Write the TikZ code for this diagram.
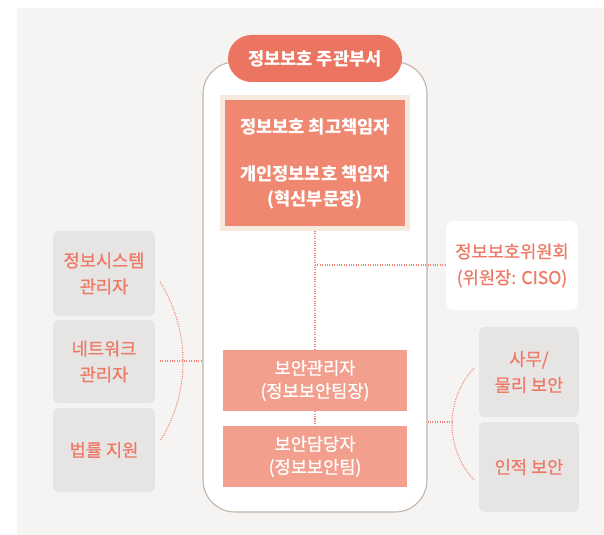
\documentclass[tikz,border=0pt]{standalone}
\usepackage{fontspec}
\newfontfamily\kr{Noto Sans CJK KR}
\newfontfamily\krm[FakeBold=0.8]{Noto Sans CJK KR}
\definecolor{bggray}{HTML}{F5F4F2}
\definecolor{boxline}{HTML}{BEB4A9}
\definecolor{pillred}{HTML}{EC7561}
\definecolor{topred}{HTML}{EF8771}
\definecolor{cream}{HTML}{F6E9DD}
\definecolor{midred}{HTML}{F29F8E}
\definecolor{graybox}{HTML}{E6E5E4}
\definecolor{salmon}{HTML}{EE7A65}
\definecolor{dotline}{HTML}{EE8472}
\tikzset{
  whitetxt/.style={text=white, font=\krm\fontsize{13.2pt}{17.25pt}\selectfont, align=center, inner sep=0pt},
  salmontxt/.style={text=salmon, font=\krm\fontsize{13.2pt}{19.5pt}\selectfont, align=center, inner sep=0pt},
  boldtxt/.style={text=white, font=\kr\bfseries\fontsize{13.2pt}{18.75pt}\selectfont, align=center, inner sep=0pt},
  midbox/.style={whitetxt, fill=midred, minimum width=138pt, minimum height=45.75pt},
  sidebox/.style={salmontxt, fill=graybox, rounded corners=4.5pt},
  conn/.style={draw=dotline, line width=0.8pt, dash pattern=on 0.8pt off 1pt}
}
\begin{document}
\begin{tikzpicture}[x=0.75pt,y=-0.75pt]
\useasboundingbox (0,0) rectangle (604,535);
\fill[bggray] (17,8) rectangle (604,535);
% main box
\node[draw=boxline, line width=0.8pt, fill=white, rounded corners=24pt,
      minimum width=168pt, minimum height=337.5pt] (main) at (315,287) {};
% pill
\node[fill=pillred, rounded corners=17.6pt, minimum width=130.5pt, minimum height=35.25pt,
      boldtxt] (pill) at (315,58.5) {정보보호 주관부서};
% top box
\node[fill=topred, draw=cream, line width=3.75pt, minimum width=138.75pt, minimum height=98.25pt] (top) at (315,163) {};
\node[boldtxt] (t1) at (315,127) {정보보호 최고책임자};
\node[boldtxt] (t2) at (315,187.5) {개인정보보호 책임자\\(혁신부문장)};
% mid boxes
\node[midbox] (mgr) at (315,380.5) {보안관리자\\(정보보안팀장)};
\node[midbox] (staff) at (315,456.5) {보안담당자\\(정보보안팀)};
% CISO
\node[fill=white, rounded corners=6pt, minimum width=99pt, minimum height=66.75pt, salmontxt] (ciso) at (512,265.5) {정보보호위원회\\(위원장: CISO)};
% left boxes
\node[sidebox, minimum width=76.5pt, minimum height=63.75pt] (l1) at (104,273.5) {정보시스템\\관리자};
\node[sidebox, minimum width=76.5pt, minimum height=62.25pt] (l2) at (104,361.5) {네트워크\\관리자};
\node[sidebox, minimum width=76.5pt, minimum height=63pt] (l3) at (104,450) {법률 지원};
% right boxes
\node[sidebox, minimum width=75pt, minimum height=67.5pt] (r1) at (529,372) {사무/\\물리 보안};
\node[sidebox, minimum width=75pt, minimum height=67.5pt] (r2) at (529,467) {인적 보안};
% connectors
\draw[conn] (top.south) -- (mgr.north);
\draw[conn] (mgr.south) -- (staff.north);
\coordinate (cj) at (315,265);
\draw[conn] (cj) -- (ciso.west |- cj);
\coordinate (ls) at (160,361);
\draw[conn] (ls) -- (main.west |- ls);
\coordinate (la) at (160,282);
\draw[conn] (la) arc[start angle=32.3, end angle=-32.3, radius=111.7pt];
\coordinate (rj) at (452,422);
\draw[conn] (main.east |- rj) -- (rj);
\coordinate (ra) at (474,368);
\draw[conn] (ra) arc[start angle=137.1, end angle=222.9, radius=61.7pt];
\end{tikzpicture}
\end{document}
